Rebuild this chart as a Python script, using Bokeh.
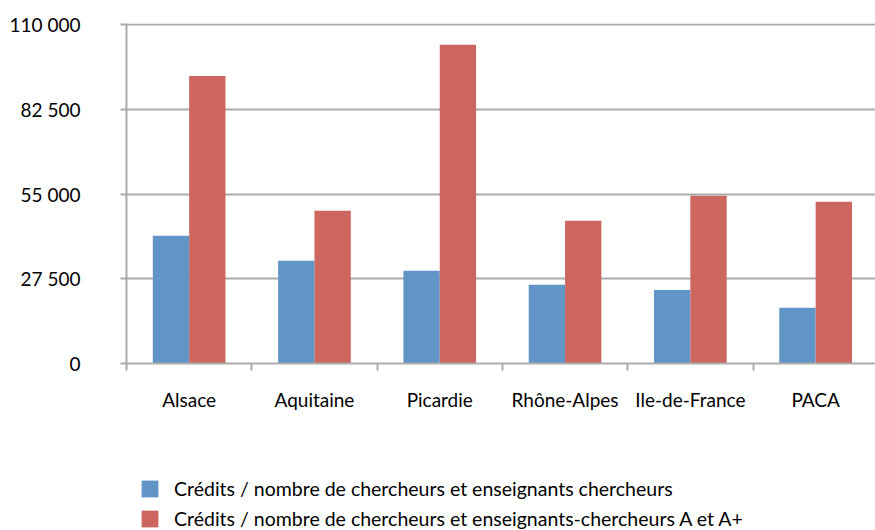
from bokeh.plotting import figure
from bokeh.layouts import column
from bokeh.models import Range1d, FixedTicker, Legend, LegendItem, ColumnDataSource
from bokeh.embed import file_html
from bokeh.resources import INLINE

categories = ["Alsace", "Aquitaine", "Picardie", "Rhône-Alpes", "Ile-de-France", "PACA"]
credits_all = [41500, 33400, 30100, 25600, 23900, 18100]
credits_a = [93400, 49600, 103500, 46400, 54500, 52500]
series_names = [
    "Crédits / nombre de chercheurs et enseignants chercheurs",
    "Crédits / nombre de chercheurs et enseignants-chercheurs A et A+",
]
y_ticks = [0, 27500, 55000, 82500, 110000]
y_tick_labels = ["0", "27 500", "55 000", "82 500", "110 000"]

FONT = "Lato"
FS = "19px"
GRID = "#ABABAB"
BLUE = "#6195C8"
RED = "#CC665F"

n = len(categories)
centers = [i + 0.5 for i in range(n)]
bw = 0.29

src = ColumnDataSource(dict(
    xb=[c - bw / 2 for c in centers],
    xr=[c + bw / 2 for c in centers],
    blue=credits_all,
    red=credits_a,
))

W = 875
H1 = 470
H2 = 60

p = figure(width=W, height=H1, output_backend="svg", toolbar_location=None,
           x_range=Range1d(0, 749 / 125.3), y_range=Range1d(0, 110422),
           min_border_left=126, min_border_right=0, min_border_top=23,
           min_border_bottom=107)
p.outline_line_color = None
p.background_fill_color = "white"
p.border_fill_color = "white"

p.vbar(x="xb", top="blue", width=bw, bottom=0, source=src,
       fill_color=BLUE, line_color=None)
p.vbar(x="xr", top="red", width=bw, bottom=0, source=src,
       fill_color=RED, line_color=None)

p.xgrid.grid_line_color = None
p.ygrid.grid_line_color = GRID
p.ygrid.grid_line_width = 2
p.ygrid.ticker = FixedTicker(ticks=y_ticks)

ya = p.yaxis[0]
ya.ticker = FixedTicker(ticks=y_ticks)
ya.major_label_overrides = {t: l for t, l in zip(y_ticks, y_tick_labels)}
ya.axis_line_color = GRID
ya.axis_line_width = 2
ya.major_tick_line_color = GRID
ya.major_tick_line_width = 2
ya.major_tick_out = 6
ya.major_tick_in = 0
ya.minor_tick_line_color = None
ya.major_label_standoff = 40
ya.major_label_text_font = FONT
ya.major_label_text_font_size = FS
ya.major_label_text_color = "black"

xa = p.xaxis[0]
xa.ticker = FixedTicker(ticks=centers, minor_ticks=list(range(n + 1)))
xa.major_label_overrides = {c: l for c, l in zip(centers, categories)}
xa.axis_line_color = GRID
xa.axis_line_width = 2
xa.major_tick_line_color = None
xa.minor_tick_line_color = GRID
xa.minor_tick_line_width = 2
xa.minor_tick_out = 7
xa.minor_tick_in = 0
xa.major_tick_out = 7
xa.major_label_standoff = 17
xa.major_label_text_font = FONT
xa.major_label_text_font_size = FS
xa.major_label_text_color = "black"

# legend figure (its frame is aligned with the main plot's frame by the column)
p2 = figure(width=W, height=H2, output_backend="svg", toolbar_location=None,
            x_range=Range1d(0, 1), y_range=Range1d(0, 1),
            x_axis_type=None, y_axis_type=None,
            min_border_left=126, min_border_right=0, min_border_top=0,
            min_border_bottom=0)
p2.outline_line_color = None
p2.xgrid.grid_line_color = None
p2.ygrid.grid_line_color = None
dummy = ColumnDataSource(dict(x=[-10], top=[-10]))
lb = p2.vbar(x="x", top="top", bottom=-11, width=0.1, source=dummy,
             fill_color=BLUE, line_color=None)
lr = p2.vbar(x="x", top="top", bottom=-11, width=0.1, source=dummy,
             fill_color=RED, line_color=None)

legend = Legend(items=[LegendItem(label=series_names[0], renderers=[lb]),
                       LegendItem(label=series_names[1], renderers=[lr])],
                location=(13, 0), orientation="vertical")
legend.border_line_color = None
legend.background_fill_alpha = 0
legend.padding = 0
legend.margin = 0
legend.spacing = 7
legend.glyph_width = 21
legend.glyph_height = 21
legend.label_height = 21
legend.label_standoff = 14
legend.label_text_font = FONT
legend.label_text_font_size = "19.5px"
legend.label_text_color = "black"
legend.label_text_baseline = "middle"
p2.add_layout(legend, "center")

layout = column(p, p2, spacing=0)
open("out.html", "w").write(file_html(layout, INLINE))
